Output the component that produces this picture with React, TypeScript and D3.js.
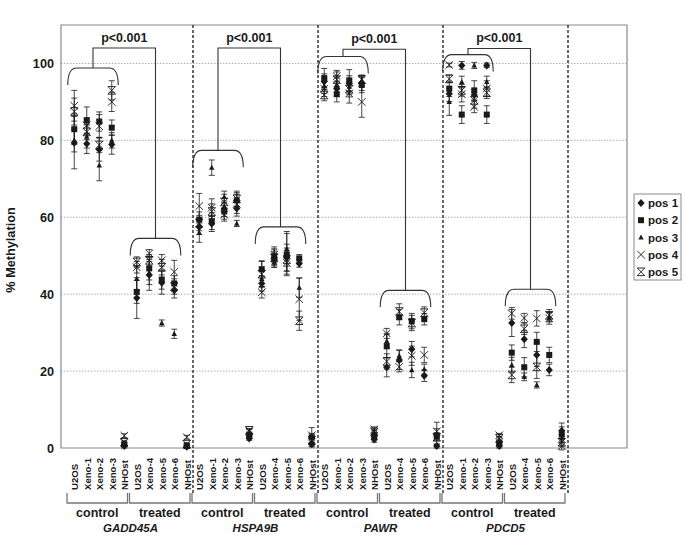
import React, { useRef, useEffect } from 'react';
import * as d3 from 'd3';

const genes = ['GADD45A', 'HSPA9B', 'PAWR', 'PDCD5'];
const samples = ['U2OS', 'Xeno-1', 'Xeno-2', 'Xeno-3', 'NHOst', 'U2OS', 'Xeno-4', 'Xeno-5', 'Xeno-6', 'NHOst'];
const groups = ['control', 'treated'];
const positions = ['pos 1', 'pos 2', 'pos 3', 'pos 4', 'pos 5'];
const yTicks = [0, 20, 40, 60, 80, 100];

// % methylation per sample, columns = pos 1..5
const gadd45a = [
  [79.4, 82.9, 80, 89, 87.5], [79.1, 85.2, 81, 83.9, 82.2], [77.6, 84.9, 73.5, 83.7, 78.8], [78.9, 83.3, 80, 90, 93],
  [0.5, 1, 0.8, 3.2, 1.5],
  [39, 40.6, 44, 47, 48.4], [45, 46.7, 45.5, 50.6, 48.8], [43, 43.8, 32.5, 48.8, 47], [41, 42.8, 29.7, 45.8, 42],
  [0.3, 0.5, 0.7, 2.8, 1],
];
const gadd45aErr = [
  [6.8, 4, 3, 4, 3.5], [2.5, 3.5, 3, 2, 2], [3, 2.5, 4, 3, 2], [2.5, 2, 2, 2.5, 2.5], [0.5, 0.5, 0.5, 0.5, 0.5],
  [5.3, 3, 3, 1.5, 1.3], [4, 3, 3, 1, 1.5], [3, 2.5, 0.8, 1.5, 2], [2, 2, 1.2, 3, 2], [0.4, 0.4, 0.4, 0.5, 0.4],
];
const hspa9b = [
  [57.5, 59.4, 56, 62.9, 58.5], [58.3, 59, 72.9, 62.5, 61.5], [62.2, 61.5, 65.3, 60.7, 64], [62.3, 64.4, 58.4, 63.5, 64.8],
  [2.5, 3.2, 3.6, 4.3, 4.6],
  [42.8, 46.5, 44, 40.5, 45.2], [49, 49.8, 48.3, 50.3, 49.5], [49.5, 50.3, 51.8, 48.2, 49], [48, 49.3, 41.7, 38.7, 33.1],
  [1, 2.8, 1.5, 3.3, 2],
];
const hspa9bErr = [
  [2, 2, 2.5, 3.3, 2], [2, 2.2, 2, 2.3, 2], [2, 2, 1.5, 1.7, 2], [2, 2, 0.8, 2.5, 2], [0.5, 0.5, 0.5, 0.5, 0.5],
  [2, 2, 2, 1.5, 3.5], [2, 2, 1.3, 2, 2], [3.5, 5.5, 4.5, 3, 3], [1, 1, 2.5, 5.5, 2.5], [0.5, 2.5, 0.5, 0.5, 0.5],
];
const pawr = [
  [95.3, 96.2, 94.2, 93.4, 91.8], [93.4, 92, 94.5, 96.7, 95.8], [94.8, 95.6, 94, 92.2, 93.3], [95, 94.4, 95.5, 90, 95.8],
  [2.2, 3.2, 3.9, 4.8, 4.2],
  [21, 26.5, 27.8, 29.8, 22.5], [22.9, 34, 24, 21.1, 35.5], [25.7, 33, 20.3, 24, 32.5], [18.8, 33.5, 20.5, 24.2, 35.2],
  [0.5, 3, 3.5, 4.3, 2.8],
];
const pawrErr = [
  [2, 2.5, 2, 2, 1.5], [2, 2, 2, 1.5, 2], [2, 2.8, 2, 2.5, 2], [2, 2, 1.2, 4, 1], [0.7, 0.7, 0.7, 0.7, 0.7],
  [2.5, 3, 2, 1.3, 2], [2.5, 2, 1.5, 1.3, 2], [2, 2, 2, 2.5, 2], [1.5, 1.5, 1.3, 2, 1.5], [0.5, 2, 0.5, 2.4, 0.5],
];
const pdcd5 = [
  [92.1, 93.4, 90, 99.6, 96], [99.5, 86.7, 95.2, 92, 93], [91.8, 93, 99.5, 88.7, 90.4], [99.5, 86.7, 95.2, 93.5, 92.4],
  [0.5, 1.2, 1.8, 3.3, 2.5],
  [32.5, 24.8, 21.6, 35, 19], [28.3, 21, 18.5, 33.8, 31], [24.2, 27.6, 16.4, 33.7, 21.1], [20.3, 24.2, 34, 33.7, 34.5],
  [4.5, 3.5, 2.5, 0.5, 1.5],
];
const pdcd5Err = [
  [2, 2, 3.5, 0.5, 1], [1, 2.3, 1.5, 2, 1.5], [1.5, 2.5, 0.8, 1.5, 2], [0.6, 2.3, 1.5, 2, 1.5], [0.5, 0.5, 0.5, 0.5, 0.5],
  [3.5, 2, 2, 1.5, 2], [2.2, 2.5, 1, 1.2, 1.5], [3, 2.5, 0.8, 2, 3], [1.5, 2, 1.2, 1.5, 1.5], [2, 2, 1, 1, 1],
];
const geneValues = [gadd45a, hspa9b, pawr, pdcd5];
const geneErrors = [gadd45aErr, hspa9bErr, pawrErr, pdcd5Err];

// significance brackets (% methylation level of bracket tops)
const controlBracket = [98.8, 77.4, 101.8, 102.3];
const treatedBracket = [54.5, 57.5, 41, 41.3];
const connectorLevel = [104, 104, 103.7, 103.9];
const pLabels = ['p<0.001', 'p<0.001', 'p<0.001', 'p<0.001'];

const font = '"Liberation Sans", Arial, Helvetica, sans-serif';
const ink = '#1a1a1a';
const frame = '#8a8a8a';

function marker(g: any, type: number, px: number, py: number) {
  if (type === 0) {
    g.append('path').attr('d', `M${px},${py - 4}L${px + 3.6},${py}L${px},${py + 4}L${px - 3.6},${py}Z`).attr('fill', ink);
  } else if (type === 1) {
    g.append('rect').attr('x', px - 3).attr('y', py - 3).attr('width', 6).attr('height', 6).attr('fill', ink);
  } else if (type === 2) {
    g.append('path').attr('d', `M${px},${py - 3}L${px + 2.7},${py + 2.2}L${px - 2.7},${py + 2.2}Z`).attr('fill', ink);
  } else {
    const r = 3.8;
    let d = `M${px - r},${py - r}L${px + r},${py + r}M${px + r},${py - r}L${px - r},${py + r}`;
    if (type === 4) d += `M${px - r},${py - r}L${px + r},${py - r}M${px - r},${py + r}L${px + r},${py + r}`;
    g.append('path').attr('d', d).attr('fill', 'none').attr('stroke', ink).attr('stroke-width', 0.9);
  }
}

export default function App() {
  const svgRef = useRef<SVGSVGElement>(null);

  useEffect(() => {
    if (!svgRef.current) return;
    const width = 685, height = 536;
    const left = 61, right = 627, top = 25, bottom = 448;
    d3.select(svgRef.current).selectAll('*').remove();
    const svg = d3.select(svgRef.current).attr('width', width).attr('height', height).style('font-family', font);

    const y = d3.scaleLinear().domain([0, 110]).range([bottom, top]);
    const x = d3.scaleBand<number>().domain(d3.range(genes.length * samples.length)).range([68, 568]);
    const bw = x.bandwidth();
    const cx = (g: number, s: number) => (x(g * samples.length + s) as number) + bw / 2;
    const geneStart = (g: number) => x(g * samples.length) as number;
    const geneEnd = (g: number) => geneStart(g) + bw * samples.length;

    // gridlines
    svg.append('g').selectAll('line').data(yTicks.filter((t) => t > 0)).join('line')
      .attr('x1', left).attr('x2', right).attr('y1', (d) => y(d)).attr('y2', (d) => y(d))
      .attr('stroke', '#9a9a9a').attr('stroke-width', 0.8).attr('stroke-dasharray', '1.5,1.5');

    // y tick labels
    svg.append('g').selectAll('text').data(yTicks).join('text')
      .attr('x', 54).attr('y', (d) => y(d)).attr('dy', '0.36em').attr('text-anchor', 'end')
      .attr('font-size', 12.7).attr('font-weight', 'bold').attr('fill', ink).text((d) => d);

    // frame
    svg.append('path').attr('d', `M${left},${top}L${right},${top}L${right},${bottom}L${left},${bottom}Z`)
      .attr('fill', 'none').attr('stroke', frame).attr('stroke-width', 1.2);

    // gene separators
    svg.append('g').selectAll('line').data(genes).join('line')
      .attr('x1', (_, i) => geneEnd(i)).attr('x2', (_, i) => geneEnd(i)).attr('y1', top).attr('y2', 494)
      .attr('stroke', ink).attr('stroke-width', 1.3).attr('stroke-dasharray', '3,2');

    // error bars and markers
    const marks = svg.append('g');
    geneValues.forEach((vals, gi) => {
      vals.forEach((row, si) => {
        const px = cx(gi, si);
        row.forEach((v, pi) => {
          const e = geneErrors[gi][si][pi];
          marks.append('path')
            .attr('d', `M${px},${y(v - e)}L${px},${y(v + e)}M${px - 3},${y(v - e)}L${px + 3},${y(v - e)}M${px - 3},${y(v + e)}L${px + 3},${y(v + e)}`)
            .attr('fill', 'none').attr('stroke', ink).attr('stroke-width', 0.8);
        });
        row.forEach((v, pi) => marker(marks, pi, px, y(v)));
      });
    });

    // significance brackets
    const br = svg.append('g').attr('fill', 'none').attr('stroke', '#333').attr('stroke-width', 1.1);
    const curly = (x0: number, x1: number, yt: number) =>
      `M ${x0} ${yt + 17} Q ${x0} ${yt} ${x0 + 9} ${yt} L ${x1 - 9} ${yt} Q ${x1} ${yt} ${x1} ${yt + 17}`;
    genes.forEach((_, gi) => {
      const c0 = cx(gi, 0) - 6.5, c1 = cx(gi, 3) + 6.5;
      const t0 = cx(gi, 5) - 6.5, t1 = cx(gi, 8) + 6.5;
      const yc = y(controlBracket[gi]), yt = y(treatedBracket[gi]), yk = y(connectorLevel[gi]);
      br.append('path').attr('d', curly(c0, c1, yc));
      br.append('path').attr('d', curly(t0, t1, yt));
      const mc = (c0 + c1) / 2, mt = (t0 + t1) / 2;
      br.append('path').attr('d', `M ${mc} ${yc} L ${mc} ${yk} L ${mt} ${yk} L ${mt} ${yt}`);
      svg.append('text').attr('x', (mc + mt) / 2).attr('y', yk - 6).attr('text-anchor', 'middle')
        .attr('font-size', 12.5).attr('font-weight', 'bold').attr('fill', ink).text(pLabels[gi]);
    });

    // category labels
    const lab = svg.append('g');
    genes.forEach((gene, gi) => {
      samples.forEach((s, si) => {
        lab.append('text').attr('transform', `translate(${cx(gi, si) + 4},490) rotate(-90)`)
          .attr('font-size', 9.6).attr('font-weight', 'bold').attr('fill', ink).text(s);
      });
      groups.forEach((grp, k) => {
        const x0 = geneStart(gi) + k * bw * 5 - 1, x1 = geneStart(gi) + (k + 1) * bw * 5 - 3;
        lab.append('path').attr('d', `M${x0},493L${x0},503L${x1},503L${x1},493`)
          .attr('fill', 'none').attr('stroke', '#777').attr('stroke-width', 1.3);
        lab.append('text').attr('x', (x0 + x1) / 2).attr('y', 517).attr('text-anchor', 'middle')
          .attr('font-size', 12.5).attr('font-weight', 'bold').attr('fill', ink).text(grp);
      });
      lab.append('text').attr('x', (geneStart(gi) + geneEnd(gi)) / 2).attr('y', 532).attr('text-anchor', 'middle')
        .attr('font-size', 11.5).attr('font-weight', 'bold').attr('font-style', 'italic').attr('fill', ink).text(gene);
    });

    // y axis title
    svg.append('text').attr('transform', 'translate(15,250) rotate(-90)').attr('text-anchor', 'middle')
      .attr('font-size', 12.7).attr('font-weight', 'bold').attr('fill', ink).text('% Methylation');

    // legend
    const lg = svg.append('g');
    lg.append('rect').attr('x', 634).attr('y', 194).attr('width', 47).attr('height', 86)
      .attr('fill', 'white').attr('stroke', frame).attr('stroke-width', 1);
    positions.forEach((p, i) => {
      const ly = 203 + i * 17.2;
      marker(lg, i, 641, ly);
      lg.append('text').attr('x', 648).attr('y', ly).attr('dy', '0.36em')
        .attr('font-size', 11.5).attr('font-weight', 'bold').attr('fill', ink).text(p);
    });
  }, []);

  return <svg ref={svgRef} style={{ position: 'absolute', left: 0, top: 0, display: 'block' }} />;
}
